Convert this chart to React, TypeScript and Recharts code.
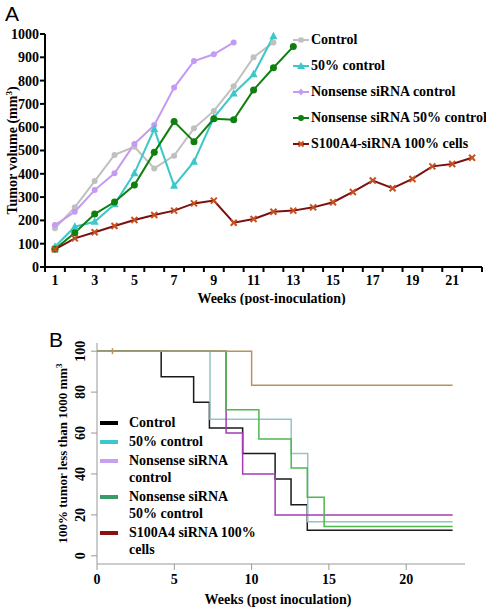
import React from 'react';
import { LineChart, Line, XAxis, YAxis, Legend } from 'recharts';

const FONT = "'Liberation Serif', 'Times New Roman', 'DejaVu Serif', serif";

// ---- panel A: tumour volume per week ----
const weeks = [1, 2, 3, 4, 5, 6, 7, 8, 9, 10, 11, 12, 13, 14, 15, 16, 17, 18, 19, 20, 21, 22];
const weekLabels = [1, 3, 5, 7, 9, 11, 13, 15, 17, 19, 21];
const volumeTicks = [0, 100, 200, 300, 400, 500, 600, 700, 800, 900, 1000];

const controlVol   = [166, 256, 369, 481, 516, 423, 478, 595, 670, 776, 900, 964];
const halfVol      = [87, 173, 194, 269, 402, 592, 349, 452, 641, 745, 827, 990];
const nsControlVol = [180, 237, 330, 402, 528, 609, 770, 884, 913, 964];
const ns50Vol      = [76, 147, 227, 279, 352, 492, 624, 538, 636, 632, 760, 855, 946];
const s100Vol      = [76, 123, 149, 176, 202, 223, 242, 273, 285, 190, 206, 237, 242, 256, 278, 322, 371, 338, 378, 432, 442, 469];

// ---- panel B: Kaplan-Meier style steps (week, % below 1000 mm3) ----
const kmControlT   = [0, 4.15, 6.25, 7.27, 9.42, 11.52, 12.55, 13.6, 23];
const kmControlS   = [100, 87.5, 75, 62.5, 50, 37.5, 25, 12.5, 12.5];
const kmHalfT      = [0, 7.31, 12.56, 13.63, 23];
const kmHalfS      = [100, 66.7, 50, 16.7, 16.7];
const kmNsCtrlT    = [0, 8.35, 9.42, 11.52, 23];
const kmNsCtrlS    = [100, 60, 40, 20, 20];
const kmNs50T      = [0, 8.35, 10.47, 12.56, 13.6, 14.69, 23];
const kmNs50S      = [100, 71.4, 57.1, 42.9, 28.6, 14.3, 14.3];
const kmS100T      = [0, 1, 10, 23];
const kmS100S      = [100, 100, 83.3, 83.3];
const kmS100Censor = [1];
const kmWeekTicks  = [0, 5, 10, 15, 20];
const kmPctTicks   = [0, 20, 40, 60, 80, 100];

const volumeRows = weeks.map((week, i) => ({
  week,
  control:   controlVol[i],
  half:      halfVol[i],
  nsControl: nsControlVol[i],
  ns50:      ns50Vol[i],
  s100:      s100Vol[i],
}));

const weekTicks = [...weeks.map((w) => w - 0.5), weeks[weeks.length - 1] + 0.5, ...weekLabels].sort((a, b) => a - b);

const steps = (t: number[], s: number[]) => t.map((x, i) => ({ t: x, s: s[i], censor: kmS100Censor.includes(x) && t === kmS100T }));

const textStyle = { fontFamily: FONT, fontWeight: 'bold' as const, fill: '#000' };

// eslint-disable-next-line @typescript-eslint/no-explicit-any
function WeekTick({ x, y, payload }: any) {
  const v = payload.value;
  if (!Number.isInteger(v)) {
    return <line x1={x} x2={x} y1={y - 5} y2={y} stroke="#000" strokeWidth={2} />;
  }
  return (
    <text x={x} y={y + 3} dy="0.71em" textAnchor="middle" fontSize={14} {...textStyle}>{v}</text>
  );
}

// eslint-disable-next-line @typescript-eslint/no-explicit-any
function RotTick({ x, y, payload }: any) {
  return (
    <text x={x} y={y} transform={`rotate(-90 ${x} ${y})`} textAnchor="middle" fontSize={14} {...textStyle}>
      {payload.value}
    </text>
  );
}

// eslint-disable-next-line @typescript-eslint/no-explicit-any
function RoundDot({ cx, cy, fill, r = 3 }: any) {
  if (cx == null || cy == null) return null;
  return <circle cx={cx} cy={cy} r={r} fill={fill} />;
}

// eslint-disable-next-line @typescript-eslint/no-explicit-any
function TriDot({ cx, cy, fill }: any) {
  if (cx == null || cy == null) return null;
  return <path d={`M${cx},${cy - 4.5}L${cx + 4},${cy + 3}L${cx - 4},${cy + 3}Z`} fill={fill} />;
}

// eslint-disable-next-line @typescript-eslint/no-explicit-any
function CrossDot({ cx, cy }: any) {
  if (cx == null || cy == null) return null;
  return (
    <g stroke="#c8501e" strokeWidth={2}>
      <line x1={cx - 3} y1={cy - 3} x2={cx + 3} y2={cy + 3} />
      <line x1={cx - 3} y1={cy + 3} x2={cx + 3} y2={cy - 3} />
    </g>
  );
}

// eslint-disable-next-line @typescript-eslint/no-explicit-any
function CensorDot({ cx, cy, payload }: any) {
  if (!payload?.censor) return null;
  return <line x1={cx} x2={cx} y1={cy - 3} y2={cy + 3} stroke="#b8945c" strokeWidth={1.5} />;
}

const topLegend = [
  { name: 'Control',                      color: '#c0c0c0', mark: 'sq' },
  { name: '50% control',                  color: '#3cc8c8', mark: 'tri' },
  { name: 'Nonsense siRNA control',       color: '#c49af4', mark: 'dia' },
  { name: 'Nonsense siRNA 50% control',   color: '#0f7f0f', mark: 'dot' },
  { name: 'S100A4-siRNA 100% cells',      color: '#7b1010', mark: 'x' },
];

function TopLegend() {
  return (
    <div style={{ fontFamily: FONT, fontWeight: 'bold', fontSize: 14, color: '#000', whiteSpace: 'nowrap' }}>
      {topLegend.map((e) => (
        <div key={e.name} style={{ display: 'flex', alignItems: 'center', height: 26 }}>
          <svg width={16} height={10} style={{ marginRight: 2, flex: 'none' }}>
            <line x1={0} x2={16} y1={5} y2={5} stroke={e.color} strokeWidth={2} />
            {e.mark === 'tri' && <path d="M8,1L12,8L4,8Z" fill={e.color} />}
            {e.mark === 'sq' && <rect x={5.5} y={2.5} width={5} height={5} fill={e.color} />}
            {e.mark === 'dia' && <path d="M8,1.5L11,5L8,8.5L5,5Z" fill={e.color} />}
            {e.mark === 'dot' && <circle cx={8} cy={5} r={3} fill={e.color} />}
            {e.mark === 'x' && (
              <g stroke="#c8501e" strokeWidth={2}>
                <line x1={5.5} y1={2.5} x2={10.5} y2={7.5} />
                <line x1={5.5} y1={7.5} x2={10.5} y2={2.5} />
              </g>
            )}
          </svg>
          <span>{e.name}</span>
        </div>
      ))}
    </div>
  );
}

const bottomLegend = [
  { lines: ['Control'],                        color: '#000000' },
  { lines: ['50% control'],                    color: '#3cc8c8' },
  { lines: ['Nonsense siRNA', 'control'],      color: '#c8a0f0' },
  { lines: ['Nonsense siRNA', '50% control'],  color: '#3a9a6a' },
  { lines: ['S100A4 siRNA 100%', 'cells'],     color: '#8b1010' },
];

function BottomLegend() {
  return (
    <div style={{ fontFamily: FONT, fontWeight: 'bold', fontSize: 14, color: '#000', lineHeight: '17px', whiteSpace: 'nowrap' }}>
      {bottomLegend.map((e) => (
        <div key={e.lines[0] + e.lines.length + e.color} style={{ display: 'flex', marginBottom: 2 }}>
          <div style={{ width: 18, height: 4, background: e.color, marginTop: 7, marginRight: 11, flex: 'none' }} />
          <div>
            {e.lines.map((l) => <div key={l}>{l}</div>)}
          </div>
        </div>
      ))}
    </div>
  );
}

const panelLetter = { position: 'absolute' as const, fontFamily: "'Liberation Sans', Arial, sans-serif", fontSize: 21, color: '#000' };

export default function App() {
  return (
    <div style={{ position: 'absolute', left: 0, top: 0, width: 486, height: 610, background: '#fff' }}>
      <div style={{ ...panelLetter, left: 5, top: 2 }}>A</div>
      <div style={{ ...panelLetter, left: 49, top: 328 }}>B</div>

      <div style={{ position: 'absolute', left: 0, top: 0 }}>
        <LineChart width={486} height={305} data={volumeRows} margin={{ top: 34, right: 4, bottom: 8, left: 0 }}>
          <XAxis
            dataKey="week"
            type="number"
            domain={[0.5, 22.5]}
            ticks={weekTicks}
            interval={0}
            tick={<WeekTick />}
            tickLine={false}
            tickSize={5}
            tickMargin={0}
            height={30}
            axisLine={{ stroke: '#000', strokeWidth: 2 }}
            // eslint-disable-next-line @typescript-eslint/no-explicit-any
            label={(p: any) => (
              <text x={(p.viewBox?.x ?? 45) + (p.viewBox?.width ?? 437) / 2 + 8} y={303} textAnchor="middle" fontSize={14} {...textStyle}>
                Weeks (post-inoculation)
              </text>
            )}
          />
          <YAxis
            domain={[0, 1000]}
            ticks={volumeTicks}
            interval={0}
            width={45}
            tickSize={5}
            tickMargin={1}
            tick={{ ...textStyle, fontSize: 14 }}
            axisLine={{ stroke: '#000', strokeWidth: 2 }}
            tickLine={{ stroke: '#000', strokeWidth: 2 }}
            // eslint-disable-next-line @typescript-eslint/no-explicit-any
            label={(p: any) => {
              const cy = (p.viewBox?.y ?? 34) + (p.viewBox?.height ?? 233) / 2;
              return (
                <text transform={`translate(17 ${cy}) rotate(-90)`} textAnchor="middle" fontSize={14} {...textStyle}>
                  Tumor volume (mm<tspan dy={-5} fontSize={9}>3</tspan><tspan dy={5}>)</tspan>
                </text>
              );
            }}
          />
          <Legend layout="horizontal" verticalAlign="middle" align="center" content={<TopLegend />}
            wrapperStyle={{ left: 293, top: 27, width: 193 }} />
          <Line dataKey="control" stroke="#c0c0c0" strokeWidth={2} isAnimationActive={false}
            dot={<RoundDot fill="#c0c0c0" r={3} />} activeDot={false} />
          <Line dataKey="nsControl" stroke="#c49af4" strokeWidth={2} isAnimationActive={false}
            dot={<RoundDot fill="#c49af4" r={3} />} activeDot={false} />
          <Line dataKey="half" stroke="#3cc8c8" strokeWidth={2} isAnimationActive={false}
            dot={<TriDot fill="#3cc8c8" />} activeDot={false} />
          <Line dataKey="ns50" stroke="#0f7f0f" strokeWidth={2} isAnimationActive={false}
            dot={<RoundDot fill="#0f7f0f" r={3.5} />} activeDot={false} />
          <Line dataKey="s100" stroke="#7b1010" strokeWidth={2} isAnimationActive={false}
            dot={<CrossDot />} activeDot={false} />
        </LineChart>
      </div>

      <div style={{ position: 'absolute', left: 0, top: 305 }}>
        <LineChart width={486} height={305} margin={{ top: 38, right: 21, bottom: 8, left: 0 }}>
          <XAxis
            dataKey="t"
            type="number"
            domain={[0, 23.8]}
            ticks={kmWeekTicks}
            interval={0}
            tickSize={6}
            tickMargin={4}
            height={38}
            tick={{ ...textStyle, fontSize: 14 }}
            axisLine={{ stroke: '#999' }}
            tickLine={{ stroke: '#999' }}
            allowDataOverflow
            // eslint-disable-next-line @typescript-eslint/no-explicit-any
            label={(p: any) => (
              <text x={(p.viewBox?.x ?? 97) + (p.viewBox?.width ?? 368) / 2 - 3} y={299} textAnchor="middle" fontSize={14} {...textStyle}>
                Weeks (post inoculation)
              </text>
            )}
          />
          <YAxis
            type="number"
            domain={[-4, 104]}
            ticks={kmPctTicks}
            interval={0}
            width={97}
            tickSize={6}
            tickMargin={6}
            tick={<RotTick />}
            axisLine={{ stroke: '#999' }}
            tickLine={{ stroke: '#999' }}
            allowDataOverflow
            // eslint-disable-next-line @typescript-eslint/no-explicit-any
            label={(p: any) => {
              const cy = (p.viewBox?.y ?? 38) + (p.viewBox?.height ?? 221) / 2;
              return (
                <text transform={`translate(67 ${cy}) rotate(-90)`} textAnchor="middle" fontSize={13} {...textStyle}>
                  100% tumor less than 1000 mm<tspan dy={-5} fontSize={9}>3</tspan>
                </text>
              );
            }}
          />
          <Legend layout="horizontal" verticalAlign="middle" align="center" content={<BottomLegend />}
            wrapperStyle={{ left: 100, top: 109, width: 200 }} />
          <Line data={steps(kmControlT, kmControlS)} dataKey="s" type="stepAfter" stroke="#1a1a1a"
            strokeWidth={1.5} dot={false} activeDot={false} isAnimationActive={false} />
          <Line data={steps(kmHalfT, kmHalfS)} dataKey="s" type="stepAfter" stroke="#96c3c3"
            strokeWidth={1.5} dot={false} activeDot={false} isAnimationActive={false} />
          <Line data={steps(kmNsCtrlT, kmNsCtrlS)} dataKey="s" type="stepAfter" stroke="#a33cb3"
            strokeWidth={1.5} dot={false} activeDot={false} isAnimationActive={false} />
          <Line data={steps(kmNs50T, kmNs50S)} dataKey="s" type="stepAfter" stroke="#4db84d"
            strokeWidth={1.5} dot={false} activeDot={false} isAnimationActive={false} />
          <Line data={steps(kmS100T, kmS100S)} dataKey="s" type="stepAfter" stroke="#b8945c"
            strokeWidth={1.5} dot={<CensorDot />} activeDot={false} isAnimationActive={false} />
        </LineChart>
      </div>
    </div>
  );
}
